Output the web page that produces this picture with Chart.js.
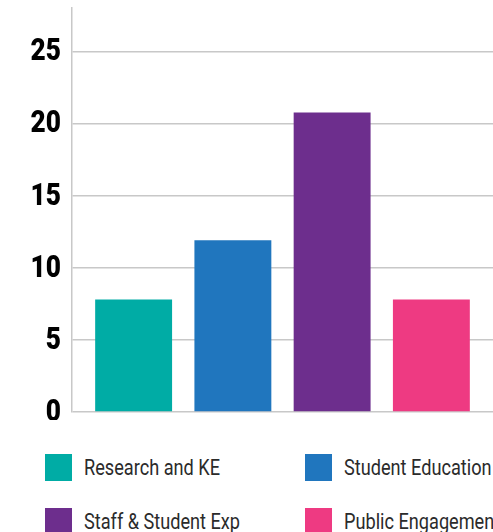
<!DOCTYPE html>
<html>
<head>
<meta charset="utf-8">
<script src="https://cdn.jsdelivr.net/npm/chart.js@4/dist/chart.umd.min.js"></script>
<style>
  body { margin: 0; background: #fff; overflow: hidden; }
  #wrap { position: relative; width: 493px; height: 420px; }
  #legend { position: relative; width: 493px; height: 112px; overflow: hidden; }
  .item { position: absolute; display: flex; align-items: center; white-space: nowrap;
          font-family: Roboto, sans-serif; font-size: 22px; color: #2b2b2b; }
  .box { width: 27px; height: 27px; margin-right: 12px; flex: none; }
  .txt { display: inline-block; transform: scaleX(0.825); transform-origin: left center; }
</style>
</head>
<body>
<div id="wrap"><canvas id="chart"></canvas></div>
<div id="legend"></div>
<script>
// categories and values
var categories = ["Research and KE", "Student Education", "Staff & Student Exp", "Public Engagement"];
var values = [7.8, 11.9, 20.75, 7.8];
var colours = ["#00aca5", "#2076be", "#6d2e8d", "#ee3a82"];
var yTicks = [0, 5, 10, 15, 20, 25];

var datasets = categories.map(function (name, i) {
  return { label: name, data: [values[i]], backgroundColor: colours[i], borderWidth: 0 };
});

// y labels are a narrow heavy face; draw the scale's own ticks squeezed a little
var narrowTicks = {
  id: "narrowTicks",
  afterDraw: function (chart) {
    var s = chart.scales.y;
    var c = chart.ctx;
    c.save();
    c.fillStyle = "#000";
    c.font = "900 32px Roboto, sans-serif";
    c.textAlign = "right";
    c.textBaseline = "middle";
    s.ticks.forEach(function (t, i) {
      var y = s.getPixelForTick(i);
      c.save();
      c.translate(s.right - 11, y + 1);
      c.scale(0.82, 1);
      c.fillText(String(t.value), 0, 0);
      c.restore();
    });
    c.restore();
  }
};

var ctx = document.getElementById("chart").getContext("2d");
new Chart(ctx, {
  type: "bar",
  data: { labels: [""], datasets: datasets },
  plugins: [narrowTicks],
  options: {
    responsive: true,
    maintainAspectRatio: false,
    animation: false,
    layout: { padding: { top: 8, bottom: 8, left: 0, right: 0 } },
    categoryPercentage: 0.943,
    barPercentage: 0.775,
    plugins: { legend: { display: false }, tooltip: { enabled: false } },
    scales: {
      x: { display: false },
      y: {
        min: 0,
        max: 28,
        afterBuildTicks: function (s) {
          s.ticks = yTicks.map(function (v) { return { value: v }; });
        },
        afterFit: function (s) {
          s.width = 72;
          s.paddingTop = 0;
          s.paddingBottom = 0;
        },
        border: { display: true, color: "#c8c8c8", width: 1.5 },
        grid: { color: "#c8c8c8", lineWidth: 1.5, drawTicks: false },
        ticks: { display: false }
      }
    }
  }
});

// legend, two columns
var legend = document.getElementById("legend");
categories.forEach(function (name, i) {
  var el = document.createElement("div");
  el.className = "item";
  el.style.left = (i % 2 === 0 ? 45 : 305) + "px";
  el.style.top = (34 + Math.floor(i / 2) * 54) + "px";
  el.innerHTML = '<span class="box" style="background:' + colours[i] + '"></span>';
  var t = document.createElement("span");
  t.className = "txt";
  t.textContent = name;
  el.appendChild(t);
  legend.appendChild(el);
});
</script>
</body>
</html>
